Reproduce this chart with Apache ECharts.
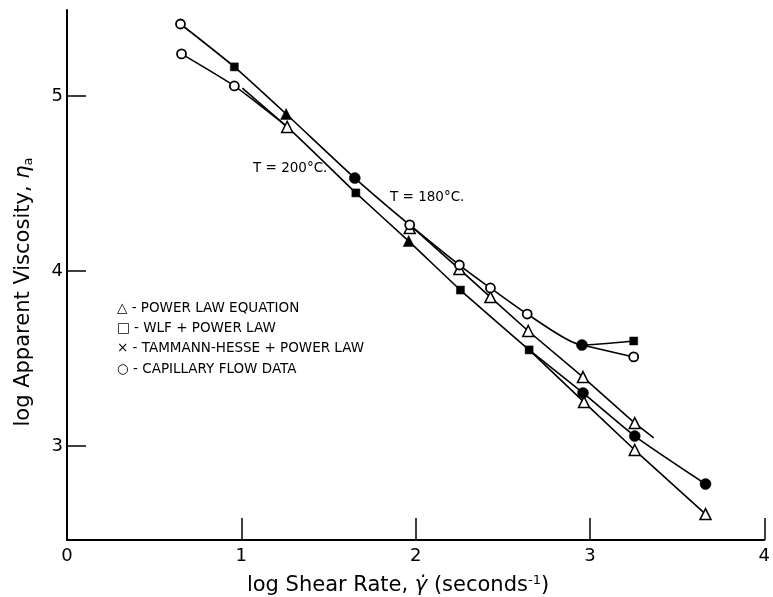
<!DOCTYPE html>
<html>
<head>
<meta charset="utf-8">
<script src="https://cdn.jsdelivr.net/npm/echarts@6/dist/echarts.min.js"></script>
<style>
html,body{margin:0;padding:0;background:#fff;}
#chart{width:773px;height:597px;}
</style>
</head>
<body>
<div id="chart"></div>
<script>
// ---- tick labels ----
const xTicks = [0, 1, 2, 3, 4];
const yTicks = [3, 4, 5];

// ---- curves (log shear rate, log apparent viscosity) ----
const curve180Main = [[0.651,5.411],[0.960,5.166],[1.257,4.897],[1.651,4.531],[1.966,4.263],[2.251,4.034],[2.429,3.903],[2.640,3.754],[2.954,3.577],[3.251,3.600]];
const curve180Capillary = [[2.954,3.577],[3.251,3.509]];
const curve180PowerLaw = [[1.966,4.263],[2.251,4.011],[2.429,3.851],[2.646,3.657],[2.960,3.394],[3.257,3.131],[3.366,3.046]];
const curve200Main = [[0.657,5.240],[0.960,5.057],[1.263,4.823],[1.657,4.446],[1.960,4.171],[2.257,3.891],[2.651,3.549]];
const curve200PowerStart = [[1.006,5.045],[1.263,4.823]];
const curve200Tammann = [[2.651,3.549],[2.960,3.303],[3.257,3.057],[3.663,2.783]];
const curve200PowerLaw = [[2.651,3.549],[2.966,3.251],[3.257,2.977],[3.663,2.611]];

// ---- markers ----
const capillaryPoints = [[0.651,5.411],[0.657,5.240],[0.960,5.057],[1.966,4.263],[2.251,4.034],[2.429,3.903],[2.640,3.754],[3.251,3.509]];
const wlfPoints = [[0.960,5.166],[1.657,4.446],[2.257,3.891],[2.651,3.549],[3.251,3.600]];
const filledTrianglePoints = [[1.257,4.897],[1.960,4.171]];
const tammannPoints = [[1.651,4.531],[2.954,3.577],[2.960,3.303],[3.257,3.057],[3.663,2.783]];
const powerLawPoints = [[1.966,4.245],[1.263,4.823],[2.251,4.011],[2.429,3.851],[2.646,3.657],[2.960,3.394],[3.257,3.131],[2.966,3.251],[3.257,2.977],[3.663,2.611]];

// ---- text ----
const legendLines = [
  '\u25B3 - POWER LAW EQUATION',
  '\u25A1 - WLF + POWER LAW',
  '\u00D7 - TAMMANN-HESSE + POWER LAW',
  '\u25CB - CAPILLARY FLOW DATA'
];
const label200 = 'T = 200\u00B0C.';
const label180 = 'T = 180\u00B0C.';
const xTitle = 'log Shear Rate, {g|\u03B3\u0307} (seconds{sup|-1})';
const yTitle = 'log Apparent Viscosity, {g|\u03B7}{sub|a}';

const FONT = 'DejaVu Sans';
const chart = echarts.init(document.getElementById('chart'), null, {renderer: 'canvas'});

function lineSeries(data, smooth) {
  return {
    type: 'line', data: data, showSymbol: false, smooth: smooth || 0,
    lineStyle: {color: '#000', width: 1.6}, silent: true, z: 2, animation: false
  };
}
function scatterSeries(data, symbol, size, fill, border) {
  return {
    type: 'scatter', data: data, symbol: symbol, symbolSize: size, silent: true, z: 5,
    itemStyle: {color: fill, borderColor: '#000', borderWidth: border, opacity: 1},
    animation: false
  };
}

chart.setOption({
  backgroundColor: '#fff',
  animation: false,
  grid: {left: 67, right: 6, top: 10, bottom: 57},
  xAxis: {
    type: 'value', min: 0, max: 4, interval: 1,
    axisLine: {show: true, lineStyle: {color: '#000', width: 2}},
    axisTick: {show: true, inside: true, length: 22, lineStyle: {color: '#000', width: 1.5}},
    axisLabel: {color: '#000', fontSize: 18, fontFamily: FONT, margin: 7,
      formatter: function (v) { return xTicks.indexOf(v) >= 0 ? String(v) : ''; }},
    splitLine: {show: false}
  },
  yAxis: {
    type: 'value', min: 2.463, max: 5.491,
    axisLine: {show: true, lineStyle: {color: '#000', width: 2}},
    axisTick: {show: true, inside: true, length: 19, customValues: yTicks, lineStyle: {color: '#000', width: 1.5}},
    axisLabel: {color: '#000', fontSize: 18, fontFamily: FONT, margin: 4, customValues: yTicks},
    splitLine: {show: false}
  },
  graphic: [
    {type: 'text', left: 117, top: 298, silent: true,
      style: {text: legendLines.join('\n'), font: '13.5px "' + FONT + '"', fill: '#000', lineHeight: 20.3}},
    {type: 'text', x: 253, y: 168, silent: true,
      style: {text: label200, font: '13.5px "' + FONT + '"', fill: '#000', textVerticalAlign: 'middle'}},
    {type: 'text', x: 390, y: 197, silent: true,
      style: {text: label180, font: '13.5px "' + FONT + '"', fill: '#000', textVerticalAlign: 'middle'}},
    {type: 'text', x: 398, y: 586, silent: true,
      style: {text: xTitle, font: '21px "' + FONT + '"', fill: '#000',
        textAlign: 'center', textVerticalAlign: 'middle',
        rich: {g: {font: 'italic 21px "' + FONT + '"', fill: '#000'}, sup: {font: '13px "' + FONT + '"', fill: '#000', verticalAlign: 'top', padding: [0,0,10,0]}}}},
    {type: 'text', x: 24, y: 292, rotation: Math.PI / 2, silent: true,
      style: {text: yTitle, font: '21px "' + FONT + '"', fill: '#000',
        textAlign: 'center', textVerticalAlign: 'middle',
        rich: {g: {font: 'italic 21px "' + FONT + '"', fill: '#000'}, sub: {font: '13px "' + FONT + '"', fill: '#000', padding: [9,0,0,0]}}}}
  ],
  series: [
    lineSeries(curve180Main, 0.2),
    lineSeries(curve180Capillary),
    lineSeries(curve180PowerLaw),
    lineSeries(curve200Main, 0.15),
    lineSeries(curve200PowerStart),
    lineSeries(curve200Tammann, 0.2),
    lineSeries(curve200PowerLaw),
    scatterSeries(powerLawPoints, 'triangle', 11, '#fff', 1.5),
    scatterSeries(capillaryPoints, 'circle', 9, '#fff', 1.8),
    scatterSeries(wlfPoints, 'rect', 8, '#000', 0.5),
    scatterSeries(filledTrianglePoints, 'triangle', 11, '#000', 0.5),
    scatterSeries(tammannPoints, 'circle', 11, '#000', 0.5)
  ]
});
</script>
</body>
</html>
